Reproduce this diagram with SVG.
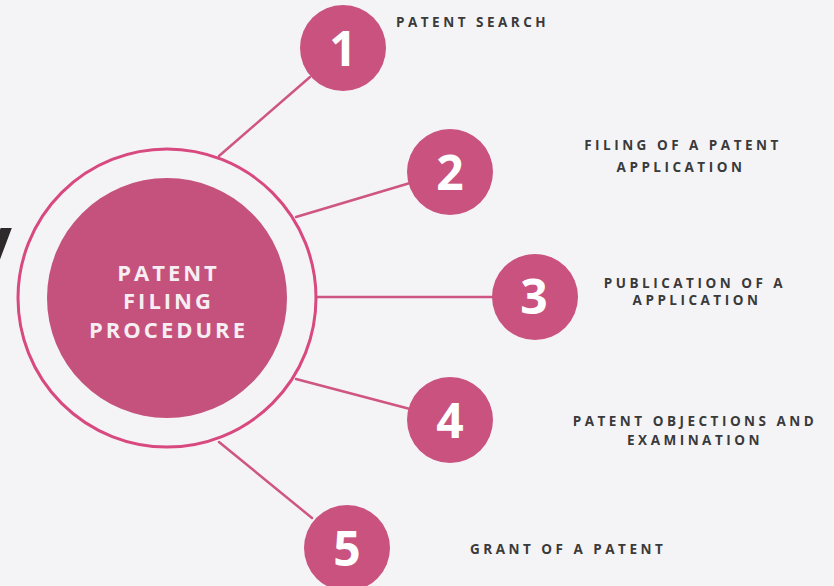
<svg xmlns="http://www.w3.org/2000/svg" width="834" height="586" viewBox="0 0 834 586">
<style>
.bg{fill:#f4f4f7}
.ring{fill:none;stroke:#d8497f;stroke-width:3}
.core{fill:#c4527d}
.step{fill:#c9527f}
.num{font-family:"Open Sans","DejaVu Sans",sans-serif;font-weight:700;font-size:48px;fill:#ffffff;text-anchor:middle}
.title{font-family:"Open Sans","DejaVu Sans",sans-serif;font-weight:700;font-size:22px;letter-spacing:3px;fill:#f6eef2;text-anchor:middle}
.lbl{font-family:"Open Sans","DejaVu Sans",sans-serif;font-weight:700;font-size:13.5px;letter-spacing:3.5px;fill:#3a3a3a}
.mid{text-anchor:middle}
.conn line{stroke:#cf5582;stroke-width:2.5;stroke-linecap:round}
</style>
<rect class="bg" x="0" y="0" width="834" height="586"/>
<text x="-28" y="266" font-family="Open Sans, DejaVu Sans, sans-serif" font-weight="700" font-size="70" fill="#2e2a2c">y</text>
<g id="connectors" class="conn">
<line x1="219" y1="156" x2="310" y2="77"/>
<line x1="296" y1="217" x2="410" y2="183"/>
<line x1="316" y1="297" x2="495" y2="297"/>
<line x1="296" y1="379" x2="410" y2="409"/>
<line x1="219" y1="442" x2="312" y2="518"/>
</g>
<g id="center">
<circle class="ring" cx="167" cy="298" r="149"/>
<circle class="core" cx="167" cy="298" r="120"/>
<text class="title" x="168.5" y="281">PATENT</text>
<text class="title" x="168.5" y="309">FILING</text>
<text class="title" x="168.5" y="338">PROCEDURE</text>
</g>
<g id="step1">
<circle class="step" cx="343" cy="48" r="43"/>
<text class="num" x="343" y="66">1</text>
<text class="lbl" x="396" y="27">PATENT SEARCH</text>
</g>
<g id="step2">
<circle class="step" cx="450" cy="172" r="43"/>
<text class="num" x="450" y="190">2</text>
<text class="lbl mid" x="683" y="150">FILING OF A PATENT</text>
<text class="lbl mid" x="681" y="172">APPLICATION</text>
</g>
<g id="step3">
<circle class="step" cx="535" cy="297" r="43"/>
<text class="num" x="534" y="314">3</text>
<text class="lbl mid" x="695" y="288">PUBLICATION OF A</text>
<text class="lbl mid" x="697" y="305">APPLICATION</text>
</g>
<g id="step4">
<circle class="step" cx="450" cy="420" r="43"/>
<text class="num" x="450" y="438">4</text>
<text class="lbl mid" x="695" y="426">PATENT OBJECTIONS AND</text>
<text class="lbl mid" x="695" y="445">EXAMINATION</text>
</g>
<g id="step5">
<circle class="step" cx="347" cy="548" r="43"/>
<text class="num" x="347" y="566">5</text>
<text class="lbl" x="470" y="554">GRANT OF A PATENT</text>
</g>
</svg>
